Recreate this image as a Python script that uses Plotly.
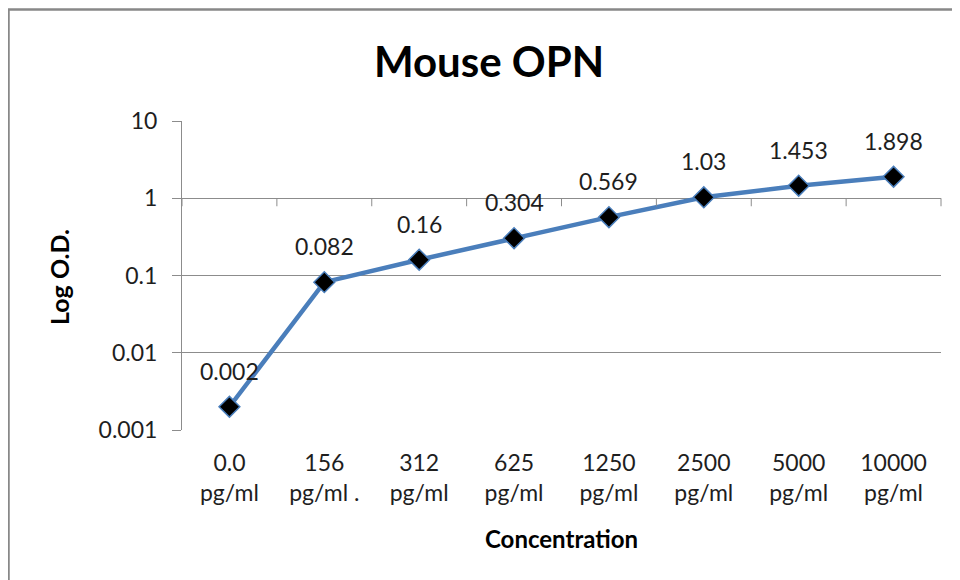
import numpy as np
import plotly.graph_objects as go

categories = ["0.0<br>pg/ml", "156<br>pg/ml .", "312<br>pg/ml", "625<br>pg/ml",
              "1250<br>pg/ml", "2500<br>pg/ml", "5000<br>pg/ml", "10000<br>pg/ml"]
od_values = [0.002, 0.082, 0.16, 0.304, 0.569, 1.03, 1.453, 1.898]
value_labels = ["0.002", "0.082", "0.16", "0.304", "0.569", "1.03", "1.453", "1.898"]
y_tickvals = [0.001, 0.01, 0.1, 1, 10]
y_ticktext = ["0.001", "0.01", "0.1", "1", "10"]
y_log_range = [-3, 1]
axis_cross = 1  # value at which the horizontal axis crosses

FONT = "Lato"
BLUE = "#4A7EBB"
GRID = "#8C8C8C"
TXT = "#1e1e1e"

# the page adds an 8px body margin; figure coordinates are reference minus 8
W, H = 952, 572
ml, mr, mt, mb = 174, 19, 113, 150
pw, ph = W - ml - mr, H - mt - mb

def px(x):
    return (x - ml) / pw

def py(y):
    return (H - mb - y) / ph

fig = go.Figure()
fig.add_trace(go.Scatter(
    x=categories, y=od_values, mode="lines+markers",
    line=dict(color=BLUE, width=4.5),
    marker=dict(symbol="diamond", size=16, color="black", line=dict(color=BLUE, width=1.5)),
    showlegend=False, hoverinfo="skip",
))
for c, v, t in zip(categories, od_values, value_labels):
    fig.add_annotation(x=c, y=np.log10(v), yref="y", text=t, showarrow=False, yshift=36,
                       font=dict(family=FONT, size=23, color=TXT))

# category-axis tick marks on the line where the horizontal axis crosses (y = 1)
cross_frac = (np.log10(axis_cross) - y_log_range[0]) / (y_log_range[1] - y_log_range[0])
n = len(categories)
for i in range(n + 1):
    fig.add_shape(type="line", xref="x domain", yref="y domain", x0=i / n, x1=i / n,
                  y0=cross_frac, y1=cross_frac - 8 / ph,
                  line=dict(color=GRID, width=1))

fig.add_shape(type="rect", xref="paper", yref="paper",
              x0=px(0.5), x1=px(975), y0=py(595), y1=py(1.5),
              line=dict(color="#888888", width=2.5), fillcolor="rgba(0,0,0,0)")

fig.add_annotation(xref="paper", yref="paper", x=px(553), y=py(530), text="<b>Concentration</b>",
                   showarrow=False, xanchor="center", yanchor="middle",
                   font=dict(family=FONT, size=24, color="black"))
fig.add_annotation(xref="paper", yref="paper", x=px(51), y=py(269), text="<b>Log O.D.</b>",
                   showarrow=False, xanchor="center", yanchor="middle", textangle=-90,
                   font=dict(family=FONT, size=25, color="black"))

fig.update_layout(
    width=W, height=H, margin=dict(l=ml, r=mr, t=mt, b=mb),
    paper_bgcolor="white", plot_bgcolor="white",
    font=dict(family=FONT, size=23, color=TXT),
    title=dict(text="<b>Mouse OPN</b>", x=px(481), xref="paper", xanchor="center",
               y=1 - 54 / H, yanchor="middle", font=dict(family=FONT, size=42, color="black")),
    xaxis=dict(type="category", range=[-0.5, n - 0.5], showgrid=False, showline=False,
               ticks="", tickfont=dict(size=23), zeroline=False, ticklabelstandoff=17),
    yaxis=dict(type="log", range=y_log_range, tickvals=y_tickvals, ticktext=y_ticktext,
               showgrid=True, gridcolor=GRID, gridwidth=1,
               showline=True, linecolor=GRID, linewidth=1,
               ticks="outside", ticklen=9, tickcolor=GRID,
               tickfont=dict(size=23), zeroline=False, ticklabelstandoff=10),
)
fig.write_html("out.html")
